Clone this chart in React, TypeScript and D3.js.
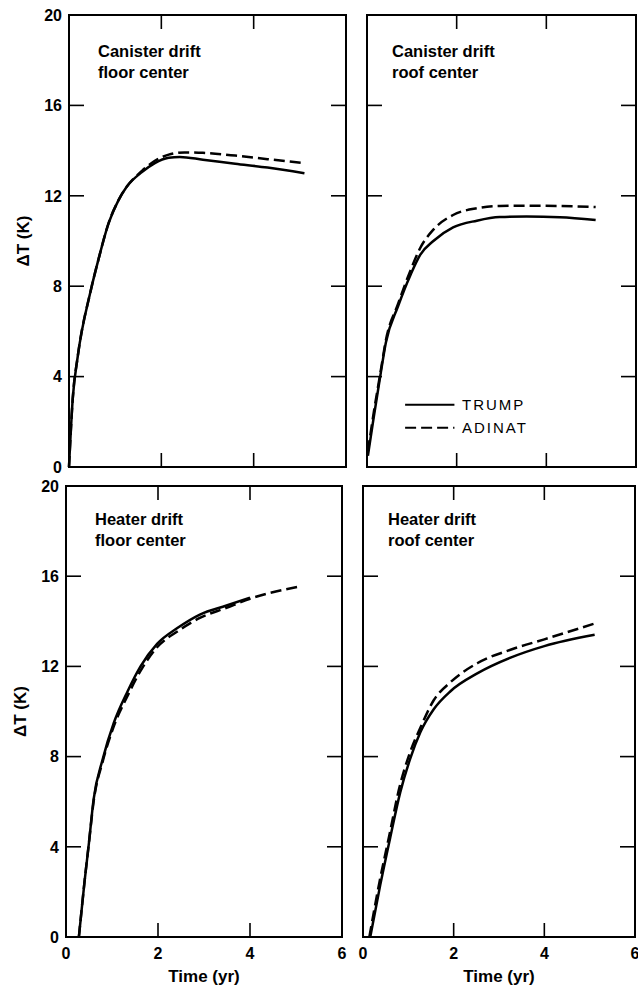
import React from 'react';
import * as d3 from 'd3';

// time (yr) / delta T (K)
const canFloorTrump = [[0, 0], [0.08, 3.0], [0.19, 4.9], [0.47, 7.8], [0.64, 9.2], [0.86, 10.8], [1.07, 11.8], [1.25, 12.4], [1.58, 13.05], [1.86, 13.45], [2.16, 13.68], [2.4, 13.72], [2.9, 13.6], [3.6, 13.42], [4.3, 13.25], [5.1, 13.0]];
const canFloorAdinat = [[0, 0], [0.08, 3.0], [0.19, 4.9], [0.47, 7.8], [0.64, 9.2], [0.86, 10.8], [1.07, 11.8], [1.25, 12.4], [1.58, 13.1], [1.86, 13.55], [2.16, 13.82], [2.5, 13.92], [2.9, 13.9], [3.6, 13.78], [4.3, 13.62], [5.1, 13.45]];

const canRoofTrump = [[0.02, 0.5], [0.15, 2.2], [0.31, 4.2], [0.42, 5.5], [0.69, 7.1], [0.97, 8.5], [1.19, 9.4], [1.48, 10.0], [1.92, 10.6], [2.45, 10.9], [2.96, 11.06], [3.56, 11.08], [4.3, 11.05], [5.1, 10.93]];
const canRoofAdinat = [[0.02, 0.7], [0.15, 2.4], [0.31, 4.3], [0.42, 5.6], [0.69, 7.2], [0.97, 8.7], [1.19, 9.7], [1.48, 10.5], [1.92, 11.15], [2.45, 11.45], [2.96, 11.55], [3.56, 11.56], [4.3, 11.55], [5.1, 11.5]];

const heatFloorTrump = [[0.28, 0], [0.4, 2.4], [0.5, 4.2], [0.6, 6.1], [0.8, 7.9], [1.04, 9.5], [1.34, 10.9], [1.62, 12.0], [1.98, 13.0], [2.42, 13.7], [2.91, 14.3], [3.49, 14.7], [4.0, 15.05]];
const heatFloorAdinat = [[0.28, 0], [0.4, 2.4], [0.5, 4.2], [0.6, 6.0], [0.8, 7.8], [1.04, 9.35], [1.34, 10.7], [1.62, 11.8], [1.98, 12.85], [2.42, 13.55], [2.91, 14.15], [3.49, 14.6], [4.0, 15.0], [5.1, 15.55]];

const heatRoofTrump = [[0.16, 0], [0.38, 2.3], [0.6, 4.4], [0.82, 6.4], [1.04, 7.9], [1.27, 9.1], [1.56, 10.1], [1.93, 10.9], [2.53, 11.7], [3.27, 12.4], [4.0, 12.9], [5.11, 13.4]];
const heatRoofAdinat = [[0.14, 0], [0.36, 2.4], [0.58, 4.5], [0.8, 6.6], [1.04, 8.2], [1.27, 9.3], [1.56, 10.5], [1.93, 11.3], [2.53, 12.15], [3.27, 12.75], [4.0, 13.2], [5.11, 13.9]];

const yTicks = [0, 4, 8, 12, 16, 20];
const xTicks = [0, 2, 4, 6];
const seriesNames = ['TRUMP', 'ADINAT'];

const font = '"Liberation Sans", Arial, Helvetica, sans-serif';

const panels = [
  { x: 69, y: 15, w: 277, h: 452, title: ['Canister drift', 'floor center'], trump: canFloorTrump, adinat: canFloorAdinat, left: true, bottom: false, legend: false },
  { x: 367, y: 15, w: 269, h: 452, title: ['Canister drift', 'roof center'], trump: canRoofTrump, adinat: canRoofAdinat, left: false, bottom: false, legend: true },
  { x: 66, y: 486, w: 276, h: 451, title: ['Heater drift', 'floor center'], trump: heatFloorTrump, adinat: heatFloorAdinat, left: true, bottom: true, legend: false },
  { x: 363, y: 486, w: 272, h: 451, title: ['Heater drift', 'roof center'], trump: heatRoofTrump, adinat: heatRoofAdinat, left: false, bottom: true, legend: false },
];

function Panel({ p }) {
  const x = d3.scaleLinear().domain([0, 6]).range([p.x, p.x + p.w]);
  const y = d3.scaleLinear().domain([0, 20]).range([p.y + p.h, p.y]);
  const line = d3.line().x(d => x(d[0])).y(d => y(d[1])).curve(d3.curveMonotoneX);
  const inner = yTicks.filter(t => t > 0 && t < 20);
  const innerX = xTicks.filter(t => t > 0 && t < 6);
  const tx = p.x + (p.left ? 29 : 25);
  return (
    <g>
      <rect x={p.x} y={p.y} width={p.w} height={p.h} fill="none" stroke="#000" strokeWidth={2} />
      {inner.map(t => (
        <g key={'y' + t}>
          <line x1={p.x} x2={p.x + 15} y1={y(t)} y2={y(t)} stroke="#000" strokeWidth={1.6} />
          <line x1={p.x + p.w - 15} x2={p.x + p.w} y1={y(t)} y2={y(t)} stroke="#000" strokeWidth={1.6} />
        </g>
      ))}
      {innerX.map(t => (
        <g key={'x' + t}>
          <line x1={x(t)} x2={x(t)} y1={p.y} y2={p.y + 14} stroke="#000" strokeWidth={1.6} />
          <line x1={x(t)} x2={x(t)} y1={p.y + p.h - 14} y2={p.y + p.h} stroke="#000" strokeWidth={1.6} />
        </g>
      ))}
      {p.left && yTicks.map(t => (
        <text key={'yl' + t} x={p.x - 7} y={y(t)} dy="0.36em" textAnchor="end" fontSize={16} fontWeight="bold" fontFamily={font}>{t}</text>
      ))}
      {p.left && (
        <text transform={`translate(${p.x - 46},${p.y + p.h / 2}) rotate(-90)`} textAnchor="middle" dy="0.36em" fontSize={17} fontWeight="bold" fontFamily={font}>ΔT (K)</text>
      )}
      {p.bottom && xTicks.map(t => (
        <text key={'xl' + t} x={x(t)} y={p.y + p.h + 22} textAnchor="middle" fontSize={16} fontWeight="bold" fontFamily={font}>{t}</text>
      ))}
      {p.bottom && (
        <text x={p.x + p.w / 2} y={p.y + p.h + 45} textAnchor="middle" fontSize={17} fontWeight="bold" fontFamily={font}>Time (yr)</text>
      )}
      <text y={p.y + (p.bottom ? 39 : 42)} fontSize={16.5} fontWeight="bold" fontFamily={font}>
        <tspan x={tx}>{p.title[0]}</tspan>
        <tspan x={tx} dy={21}>{p.title[1]}</tspan>
      </text>
      <path d={line(p.trump)} fill="none" stroke="#000" strokeWidth={2.5} />
      <path d={line(p.adinat)} fill="none" stroke="#000" strokeWidth={2.5} strokeDasharray="11,5" />
      {p.legend && seriesNames.map((name, i) => (
        <g key={name}>
          <line x1={x(0.85)} x2={x(1.95)} y1={y(2.75) + i * 23} y2={y(2.75) + i * 23} stroke="#000" strokeWidth={2} strokeDasharray={i === 0 ? null : '11,5'} />
          <text x={x(2.12)} y={y(2.75) + i * 23} dy="0.36em" fontSize={15} letterSpacing={2} fontFamily={font}>{name}</text>
        </g>
      ))}
    </g>
  );
}

export default function App() {
  return (
    <svg width={638} height={994} style={{ position: 'absolute', left: 0, top: 0, background: '#fff' }}>
      {panels.map((p, i) => <Panel key={i} p={p} />)}
    </svg>
  );
}
